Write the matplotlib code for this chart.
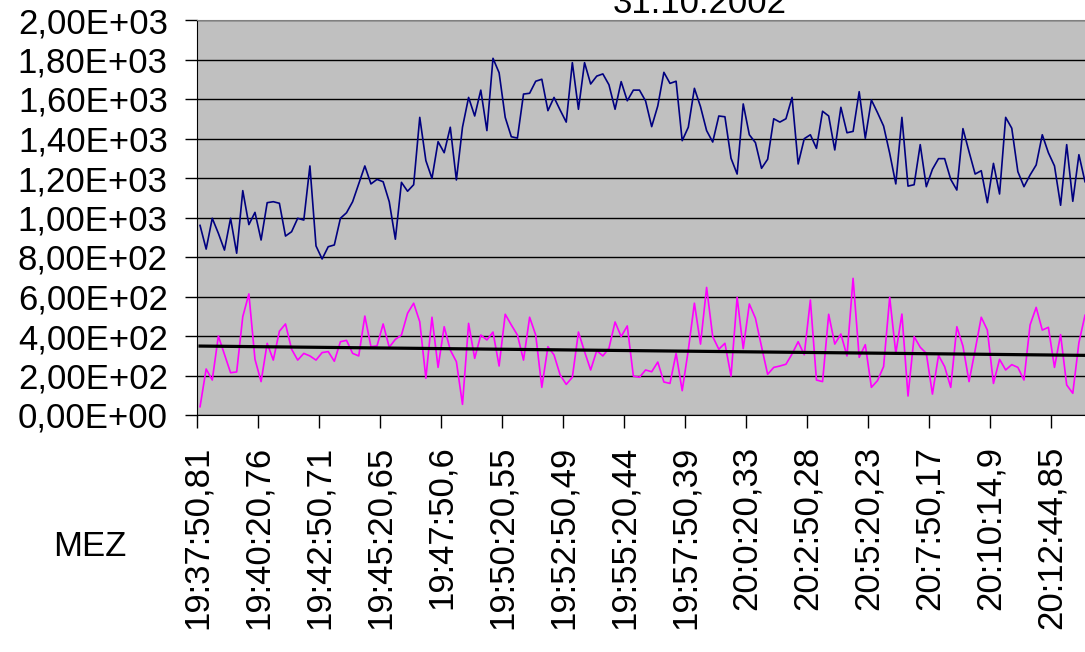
import matplotlib
matplotlib.use("Agg")
import matplotlib.pyplot as plt
import numpy as np

navy_vals = [960, 840, 996, 920, 835, 996, 819, 1136, 964, 1026, 886, 1075, 1080, 1072, 906,
             928, 996, 987, 1261, 856, 790, 852, 861, 996, 1024, 1080, 1170, 1261, 1170, 1193,
             1181, 1080, 890, 1178, 1133, 1166,
             1507, 1288, 1198, 1384, 1328, 1457, 1190, 1457, 1608, 1514, 1645, 1440, 1806, 1733,
             1507, 1409, 1402, 1625, 1629, 1690, 1700, 1541, 1608, 1544, 1483, 1784, 1548, 1784,
             1676, 1716, 1727, 1672, 1548, 1688, 1591, 1645, 1645,
             1590, 1460, 1565, 1735, 1679, 1690, 1389, 1457, 1654, 1561, 1440, 1382, 1514, 1510,
             1300, 1220, 1575, 1419, 1379, 1249, 1295, 1500, 1483, 1500, 1608, 1271, 1399, 1419,
             1350, 1538, 1514, 1342, 1558, 1429, 1436, 1637,
             1401, 1595, 1531, 1463, 1325, 1170, 1507, 1159, 1166, 1369, 1156, 1244, 1298, 1298,
             1193, 1139, 1450, 1333, 1220, 1237, 1075, 1274, 1119, 1507, 1452, 1232, 1156, 1215,
             1266, 1419, 1328, 1261, 1062, 1369, 1082, 1318, 1181]

magenta_vals = [42, 233, 177, 400, 307, 214, 218, 498, 613, 282, 169, 363, 278, 424, 461, 333,
                278, 312, 299, 278, 316, 321, 272, 371, 378, 312, 299, 501, 346, 350, 461, 343,
                383, 405, 515, 566, 472,
                186, 495, 241, 447, 329, 270, 54, 464, 287, 405, 380, 420, 248, 510, 456, 405,
                278, 495, 405, 140, 346, 304, 203, 155, 191, 420, 321, 228, 326, 299, 338, 471,
                397, 451, 197, 191,
                228, 219, 268, 167, 160, 312, 123, 329, 566, 359, 646, 397, 333, 363, 197, 596,
                336, 562, 490, 346, 206, 241, 248, 257, 309, 371, 305, 582, 177, 169, 510, 359,
                410, 299, 692, 292,
                356, 140, 174, 245, 596, 312, 511, 96, 397, 343, 312, 106, 302, 245, 140, 447,
                349, 169, 329, 495, 430, 160, 282, 228, 255, 241, 177, 456, 545, 430, 444, 241,
                407, 152, 110, 366, 505]

# Trendlinie (Excel, ueber die ganze Reihe) - Werte am ersten/letzten sichtbaren Punkt
trend_vals = [349, 302]

x_labels = ["19:37:50,81", "19:40:20,76", "19:42:50,71", "19:45:20,65", "19:47:50,6",
            "19:50:20,55", "19:52:50,49", "19:55:20,44", "19:57:50,39", "20:0:20,33",
            "20:2:50,28", "20:5:20,23", "20:7:50,17", "20:10:14,9", "20:12:44,85"]
y_ticks = [0, 200, 400, 600, 800, 1000, 1200, 1400, 1600, 1800, 2000]
y_labels = ["0,00E+00", "2,00E+02", "4,00E+02", "6,00E+02", "8,00E+02", "1,00E+03",
            "1,20E+03", "1,40E+03", "1,60E+03", "1,80E+03", "2,00E+03"]

plt.rcParams['font.family'] = ['Liberation Sans', 'DejaVu Sans']
fs = 25

fig = plt.figure(figsize=(10.85, 6.52), dpi=100)
ax = fig.add_axes([197 / 1085, 1 - 415 / 652, 1 - 197 / 1085, (415 - 20) / 652])
ax.set_facecolor('#C0C0C0')

x = np.arange(len(navy_vals)) + 0.5
ax.plot(x, navy_vals, color='#000080', lw=1.2)
ax.plot(x, magenta_vals, color='#FF00FF', lw=1.2)
ax.plot([x[0], x[-1]], trend_vals, color='black', lw=2.3)

ax.set_xlim(0, 145.5)
ax.set_ylim(0, 2000)
ax.set_yticks(y_ticks)
ax.set_yticklabels(y_labels, fontsize=fs)
ax.set_xticks(np.arange(len(x_labels)) * 10)
ax.set_xticklabels(x_labels, rotation=90, fontsize=fs)
ax.tick_params(axis='both', length=9, width=1, direction='out')
ax.tick_params(axis='y', pad=12)
ax.tick_params(axis='x', pad=13)
ax.yaxis.grid(True, color='black', lw=1)
ax.set_axisbelow(True)

ax.spines['top'].set_color('#808080')
ax.spines['right'].set_visible(False)

fig.text(700 / 1085, 1 - 13 / 652, "31.10.2002", fontsize=fs, ha='center', va='baseline')
fig.text(90 / 1085, 1 - 547 / 652, "MEZ", fontsize=fs, ha='center', va='center')

fig.savefig("out.png", dpi=100)
